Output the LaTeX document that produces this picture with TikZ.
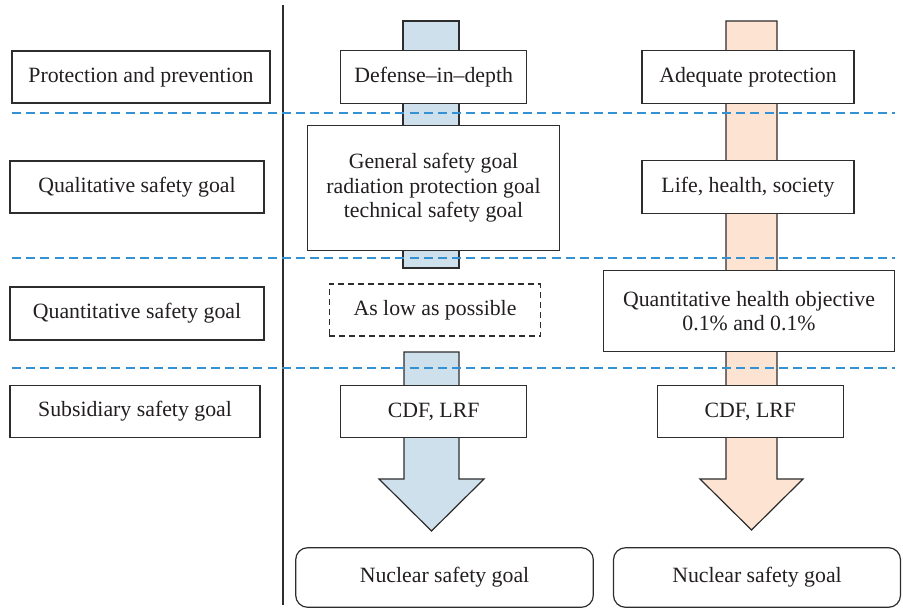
\documentclass[tikz,border=0pt]{standalone}
\usepackage{fontspec}
\setmainfont{Liberation Serif}
\usepackage{tikz}
\usetikzlibrary{arrows.meta, calc, shapes, positioning}

\definecolor{barblue}{RGB}{207,224,237}
\definecolor{barorange}{RGB}{253,227,209}
\definecolor{lineblue}{RGB}{52,146,212}
\definecolor{edgegray}{RGB}{45,45,45}
\definecolor{textgray}{RGB}{35,31,32}

\begin{document}
\begin{tikzpicture}[x=0.5pt, y=-0.5pt,
		goalbox/.style={draw=edgegray, line width=0.6pt, fill=white, align=center, inner sep=0pt,
			text=textgray, font=\fontsize{10.9}{12.25}\selectfont},
		endbox/.style={goalbox, rounded corners=6pt},
		levelline/.style={lineblue, line width=0.6pt, dash pattern=on 4.5pt off 2.6pt}]
			\useasboundingbox (0,0) rectangle (903,610);
			
			% Separator
			\draw[edgegray, line width=0.6pt] (283,5) -- (283,605);
			
			% Flow bars (behind the boxes)
			\draw[edgegray, line width=0.6pt, fill=barblue] (403,21) rectangle (459,268);
			\draw[edgegray, line width=0.6pt, fill=barblue] (404,352) -- (459,352) -- (459,479) -- (484,479)
				-- (431.5,531) -- (379,479) -- (404,479) -- cycle;
			\draw[edgegray, line width=0.6pt, fill=barorange] (726,21) -- (777,21) -- (777,479) -- (803,479)
				-- (751.5,530) -- (700,479) -- (726,479) -- cycle;
			
			% Level boundaries
			\foreach \y in {113, 258, 368} {
				\draw[levelline] (12,\y) -- (895,\y);
			}
			
			% Levels
			\node[goalbox, minimum width=129pt, minimum height=26pt] (prot) at (141,77) {Protection and prevention};
			\node[goalbox, minimum width=127pt, minimum height=26pt] (qual) at (137,187) {Qualitative safety goal};
			\node[goalbox, minimum width=127pt, minimum height=26.5pt] (quant) at (137,313.5) {Quantitative safety goal};
			\node[goalbox, minimum width=125pt, minimum height=26pt] (subs) at (135,411.5) {Subsidiary safety goal};
			
			% Defense-in-depth column
			\node[goalbox, minimum width=93pt, minimum height=26.5pt] (depth) at (433.7,77.2) {Defense--in--depth};
			\node[goalbox, minimum width=125.8pt, minimum height=62.8pt] (general) at (433.5,188)
				{General safety goal\\radiation protection goal\\technical safety goal};
			\node[goalbox, dash pattern=on 3pt off 2pt, minimum width=105.8pt, minimum height=26pt] (alow) at (435,310) {As low as possible};
			\node[goalbox, minimum width=93pt, minimum height=26.3pt] (cdfa) at (433.7,411.5) {CDF, LRF};
			\node[endbox, minimum width=148.8pt, minimum height=29.8pt] (nsga) at (444.5,577.5) {Nuclear safety goal};
			
			% Adequate protection column
			\node[goalbox, minimum width=106pt, minimum height=26.3pt] (adeq) at (748,77) {Adequate protection};
			\node[goalbox, minimum width=106pt, minimum height=26.3pt] (life) at (748,187) {Life, health, society};
			\node[goalbox, minimum width=145.8pt, minimum height=40.5pt] (qho) at (749,311)
				{Quantitative health objective\\0.1\% and 0.1\%};
			\node[goalbox, minimum width=93pt, minimum height=26.3pt] (cdfb) at (750.3,411.5) {CDF, LRF};
			\node[endbox, minimum width=143.5pt, minimum height=29.8pt] (nsgb) at (757,577.5) {Nuclear safety goal};
		\end{tikzpicture}
\end{document}
